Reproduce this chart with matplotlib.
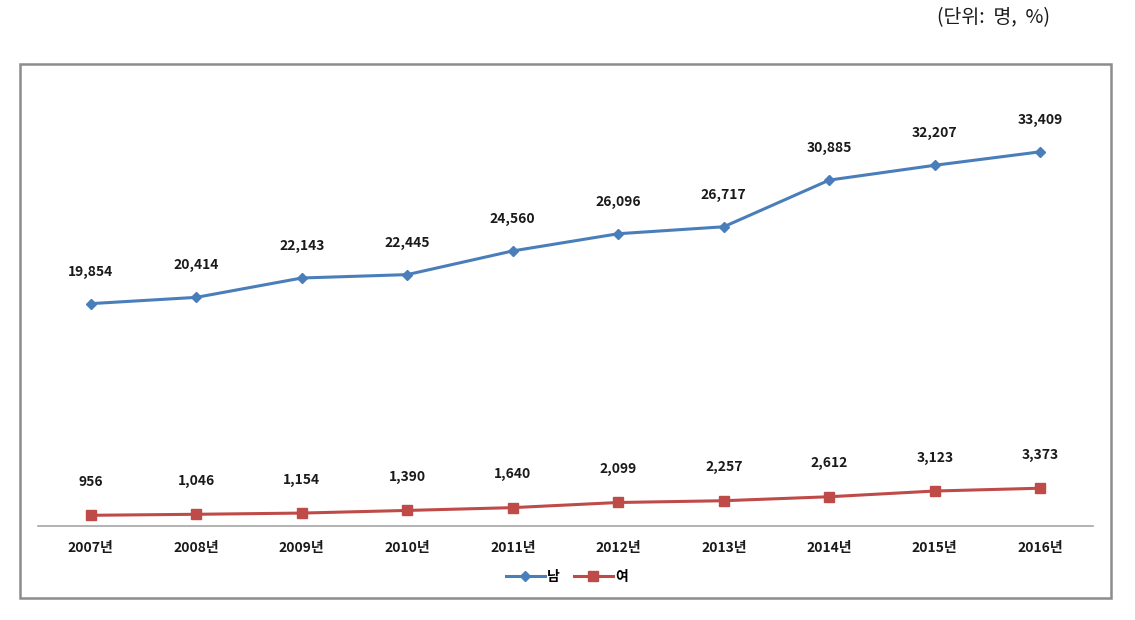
import matplotlib
matplotlib.use("Agg")
import matplotlib.pyplot as plt
from matplotlib.patches import Rectangle

plt.rcParams['font.family'] = ['Noto Sans CJK KR', 'DejaVu Sans']

# =========================
# DATA
# =========================

years = ["2007년", "2008년", "2009년", "2010년", "2011년",
         "2012년", "2013년", "2014년", "2015년", "2016년"]
male = [19854, 20414, 22143, 22445, 24560, 26096, 26717, 30885, 32207, 33409]
female = [956, 1046, 1154, 1390, 1640, 2099, 2257, 2612, 3123, 3373]

BLUE = "#4A7EBB"
RED = "#BE4B48"

# =========================
# FIGURE
# =========================

fig = plt.figure(figsize=(11.35, 6.2), dpi=100)
ax = fig.add_axes([38 / 1135, 1 - 526 / 620, 1055 / 1135, 448 / 620])

x = list(range(len(years)))

ax.plot(x, male, color=BLUE, lw=2.2, marker="D", markersize=5.5,
        label="남", zorder=3)
ax.plot(x, female, color=RED, lw=2.2, marker="s", markersize=6.5,
        label="여", zorder=3)

for xi, v in zip(x, male):
    ax.annotate(f"{v:,}", (xi, v), xytext=(0, 18), textcoords="offset points",
                ha="center", va="bottom", fontsize=10, fontweight="bold",
                color="#1a1a1a")

for xi, v in zip(x, female):
    ax.annotate(f"{v:,}", (xi, v), xytext=(0, 19), textcoords="offset points",
                ha="center", va="bottom", fontsize=10, fontweight="bold",
                color="#1a1a1a")

ax.set_xlim(-0.5, len(years) - 0.5)
ax.set_ylim(0, 40000)

ax.set_xticks(x)
ax.set_xticklabels(years, fontsize=10, fontweight="bold", color="#1a1a1a")
ax.tick_params(axis="x", length=0, pad=11)
ax.set_yticks([])

for side in ["top", "right", "left"]:
    ax.spines[side].set_visible(False)
ax.spines["bottom"].set_color("#A6A6A6")
ax.spines["bottom"].set_linewidth(1.2)

leg = fig.legend(loc="center", bbox_to_anchor=(567 / 1135, 1 - 577 / 620),
                 ncol=2, frameon=False, handlelength=2.8, columnspacing=1.0,
                 handletextpad=0.2, prop={"size": 10, "weight": "bold"})

# outer border
fig.patches.append(Rectangle((20 / 1135, 1 - 598 / 620), 1091 / 1135, 534 / 620,
                             transform=fig.transFigure, fill=False,
                             edgecolor="#8C8C8C", lw=1.8))

fig.text(1050 / 1135, 1 - 18 / 620, "(단위:  명,  %)", ha="right", va="center",
         fontsize=14, color="#1a1a1a")

fig.savefig("out.png", dpi=100)
